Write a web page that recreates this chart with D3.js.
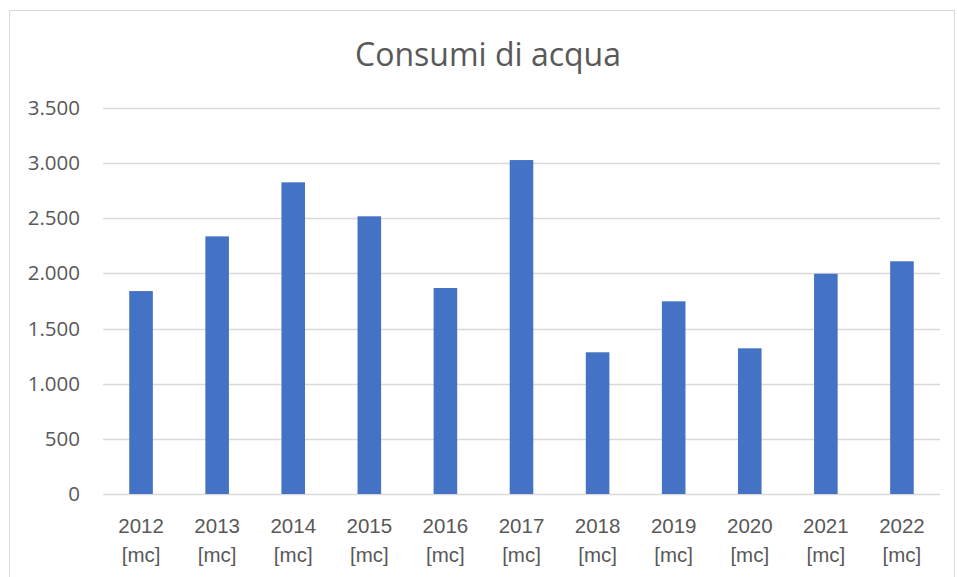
<!DOCTYPE html>
<html>
<head>
<meta charset="utf-8">
<script src="https://cdn.jsdelivr.net/npm/d3@7"></script>
<style>
  html, body { margin: 0; padding: 0; background: #fff; }
  svg { display: block; }
</style>
</head>
<body>
<svg id="chart"></svg>
<script>
// data
const years = ['2012', '2013', '2014', '2015', '2016', '2017', '2018', '2019', '2020', '2021', '2022'];
const unit = '[mc]';
const consumi = [1840, 2336, 2826, 2518, 1868, 3028, 1285, 1747, 1321, 1997, 2110];
const yTicks = [0, 500, 1000, 1500, 2000, 2500, 3000, 3500];
const title = 'Consumi di acqua';

const width = 957;
const height = 577;
const margin = { top: 108, right: 17, bottom: 83, left: 103 };

const svg = d3.select('#chart')
    .attr('width', width)
    .attr('height', height)
    .style('font-family', '"Open Sans", sans-serif');

// outer chart border
svg.append('rect')
    .attr('x', 9.5)
    .attr('y', 10.5)
    .attr('width', width - 12)
    .attr('height', height + 10)
    .attr('fill', '#fff')
    .attr('stroke', '#d9d9d9')
    .attr('stroke-width', 1);

// scales
const xScale = d3.scaleBand()
    .domain(years)
    .range([margin.left, width - margin.right])
    .paddingInner(0.69)
    .paddingOuter(0.345);

const yScale = d3.scaleLinear()
    .domain([0, 3500])
    .range([height - margin.bottom, margin.top]);

// gridlines
svg.append('g')
    .selectAll('line')
    .data(yTicks)
    .enter()
    .append('line')
    .attr('x1', margin.left)
    .attr('x2', width - margin.right)
    .attr('y1', d => Math.round(yScale(d)) + 0.5)
    .attr('y2', d => Math.round(yScale(d)) + 0.5)
    .attr('stroke', '#d9d9d9')
    .attr('stroke-width', 1.3);

// y axis labels
const fmt = d3.formatLocale({ decimal: ',', thousands: '.', grouping: [3], currency: ['', '€'] }).format(',');
const yAxis = d3.axisLeft(yScale)
    .tickValues(yTicks)
    .tickFormat(fmt)
    .tickSize(0)
    .tickPadding(23);

svg.append('g')
    .attr('transform', `translate(${margin.left},0)`)
    .call(yAxis)
    .call(g => g.select('.domain').remove())
    .selectAll('text')
    .attr('fill', '#595959')
    .style('font-size', '20.5px')
    .style('font-family', '"Open Sans", sans-serif');

// bars
svg.append('g')
    .selectAll('rect')
    .data(consumi)
    .enter()
    .append('rect')
    .attr('x', (d, i) => xScale(years[i]))
    .attr('y', d => yScale(d))
    .attr('width', xScale.bandwidth())
    .attr('height', d => yScale(0) - yScale(d))
    .attr('fill', '#4472c4');

// x axis labels, two lines
const xAxis = d3.axisBottom(xScale).tickSize(0).tickFormat('');
const xg = svg.append('g')
    .attr('transform', `translate(0,${height - margin.bottom})`)
    .call(xAxis)
    .call(g => g.select('.domain').remove());

xg.selectAll('.tick')
    .append('text')
    .attr('fill', '#595959')
    .attr('text-anchor', 'middle')
    .style('font-size', '20.5px')
    .selectAll('tspan')
    .data([0, 1])
    .enter()
    .append('tspan')
    .attr('x', 0)
    .attr('y', d => 39 + d * 29)
    .text((d, i, nodes) => d === 0 ? d3.select(nodes[i].parentNode.parentNode).datum() : unit);

// title
svg.append('text')
    .attr('x', 488)
    .attr('y', 66)
    .attr('text-anchor', 'middle')
    .attr('fill', '#595959')
    .style('font-size', '32px')
    .text(title);
</script>
</body>
</html>
